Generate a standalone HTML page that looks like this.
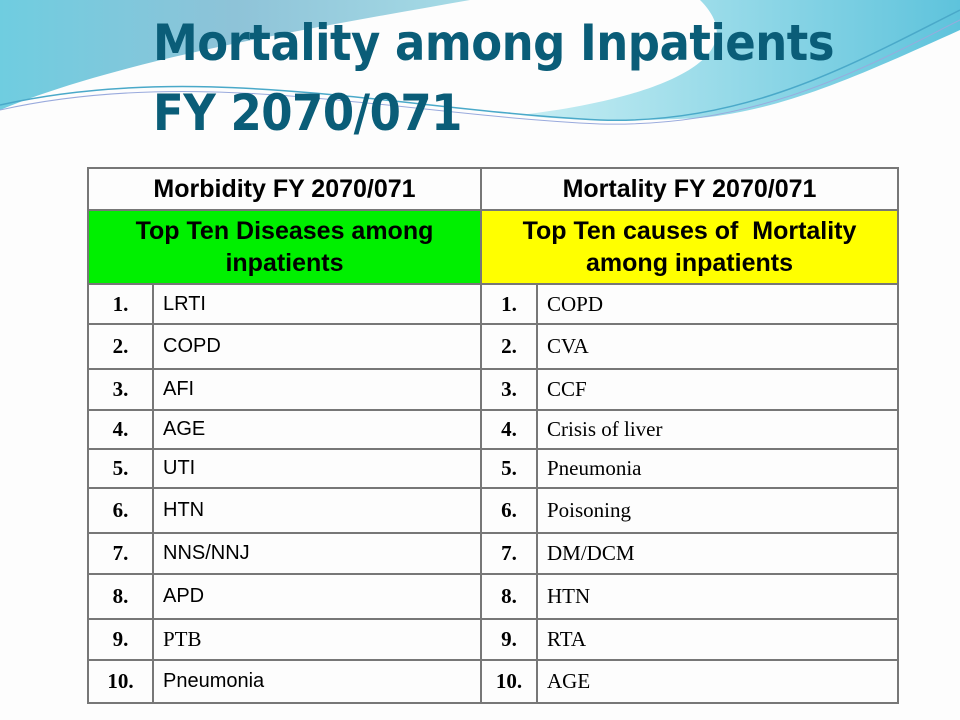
<!DOCTYPE html>
<html><head><meta charset="utf-8"><style>
body{margin:0;width:960px;height:720px;overflow:hidden;background:#fdfdfd;position:relative;font-family:"Liberation Sans",sans-serif}
#bg{position:absolute;left:0;top:0}
h1{position:absolute;left:153px;top:8px;margin:0;font-family:"DejaVu Sans Condensed","Liberation Sans Narrow","Liberation Sans",sans-serif;font-weight:bold;font-size:50px;line-height:70px;color:#0a5d78;letter-spacing:-0.5px}
table{position:absolute;left:87px;top:167px;width:810px;border-collapse:collapse;table-layout:fixed}
td{border:2px solid #777;padding:0;vertical-align:middle;white-space:nowrap}
.h{font-weight:bold;font-size:25px;text-align:center;color:#000}
.n{font-family:"Liberation Serif",serif;font-weight:bold;font-size:21px;text-align:center}
.s{font-size:20px;padding-left:9px}
.r{font-family:"Liberation Serif",serif;font-size:21px;padding-left:9px}
</style></head><body>
<svg id="bg" width="960" height="170">
<defs><linearGradient id="g1" x1="0" y1="0" x2="1" y2="0"><stop offset="0" stop-color="#6fcde0"/><stop offset="0.5" stop-color="#8ec3d8"/><stop offset="1" stop-color="#a6dbe6"/></linearGradient>
<linearGradient id="g2" x1="0" y1="0" x2="1" y2="0"><stop offset="0" stop-color="#c8eef3"/><stop offset="1" stop-color="#5ec3dc"/></linearGradient></defs>
<path d="M0,0 H470 C300,30 120,60 0,110 Z" fill="url(#g1)"/>
<path d="M700,0 H960 V30 C850,80 780,110 700,118 C620,122 560,120 520,115 C650,100 760,60 700,0 Z" fill="url(#g2)"/>
<path d="M0,105 C200,60 400,110 600,120 C750,125 860,60 960,10" fill="none" stroke="#4aa9c9" stroke-width="1.5"/>
<path d="M0,110 C200,65 400,115 600,124 C760,128 870,65 960,20" fill="none" stroke="#9ad" stroke-width="1"/>
</svg>
<h1>Mortality among Inpatients<br>FY 2070/071</h1>
<table>
<colgroup><col style="width:65px"><col style="width:328px"><col style="width:56px"><col style="width:361px"></colgroup>
<tr style="height:42px"><td colspan="2" class="h">Morbidity FY 2070/071</td><td colspan="2" class="h">Mortality FY 2070/071</td></tr>
<tr style="height:74px"><td colspan="2" class="h" style="background:#00f000;line-height:32px">Top Ten Diseases among<br>inpatients</td><td colspan="2" class="h" style="background:#ffff00;line-height:32px">Top Ten causes of &nbsp;Mortality<br>among inpatients</td></tr>
<tr style="height:40px"><td class="n">1.</td><td class="s">LRTI</td><td class="n">1.</td><td class="r">COPD</td></tr>
<tr style="height:45px"><td class="n">2.</td><td class="s">COPD</td><td class="n">2.</td><td class="r">CVA</td></tr>
<tr style="height:41px"><td class="n">3.</td><td class="s">AFI</td><td class="n">3.</td><td class="r">CCF</td></tr>
<tr style="height:39px"><td class="n">4.</td><td class="s">AGE</td><td class="n">4.</td><td class="r">Crisis of liver</td></tr>
<tr style="height:39px"><td class="n">5.</td><td class="s">UTI</td><td class="n">5.</td><td class="r">Pneumonia</td></tr>
<tr style="height:45px"><td class="n">6.</td><td class="s">HTN</td><td class="n">6.</td><td class="r">Poisoning</td></tr>
<tr style="height:41px"><td class="n">7.</td><td class="s">NNS/NNJ</td><td class="n">7.</td><td class="r">DM/DCM</td></tr>
<tr style="height:45px"><td class="n">8.</td><td class="s">APD</td><td class="n">8.</td><td class="r">HTN</td></tr>
<tr style="height:41px"><td class="n">9.</td><td class="r">PTB</td><td class="n">9.</td><td class="r">RTA</td></tr>
<tr style="height:43px"><td class="n">10.</td><td class="s">Pneumonia</td><td class="n">10.</td><td class="r">AGE</td></tr>
</table>
</body></html>
